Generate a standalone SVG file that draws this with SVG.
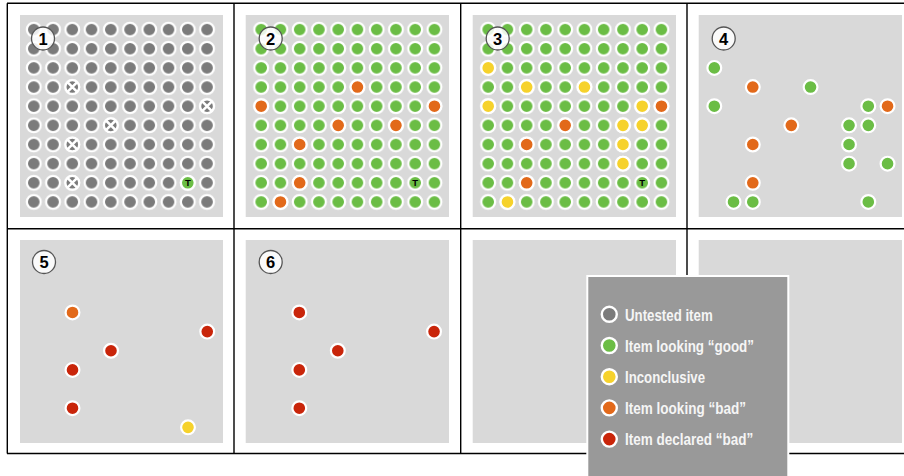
<svg xmlns="http://www.w3.org/2000/svg" xmlns:xlink="http://www.w3.org/1999/xlink" width="904" height="476" viewBox="0 0 904 476">
<style>
.bg{fill:#d9d9d9}
.dot{stroke:#fff;stroke-width:2.2}
.k{fill:#7b7b7b}
.g{fill:#6bbd45}
.o{fill:#e2691a}
.y{fill:#f6d22c}
.r{fill:#c9250a}
.frame{stroke:#000;stroke-width:1.4;fill:none}
.badge circle{fill:#fff;fill-opacity:0.85;stroke:#555;stroke-width:1.3}
.badge text{font-family:"Liberation Sans",Arial,sans-serif;font-weight:bold;font-size:16.5px;fill:#000;text-anchor:middle}
.t{font-family:"Liberation Sans",Arial,sans-serif;font-weight:bold;font-size:9.5px;fill:#000;text-anchor:middle}
.leg text{font-family:"Liberation Sans",Arial,sans-serif;font-weight:bold;font-size:16.5px;fill:#f5f5f5}
.leg circle{stroke:#fff;stroke-width:2.4}
</style>
<defs>
<pattern id="pk" patternUnits="userSpaceOnUse" x="24.175" y="20.025" width="19.25" height="19.15">
<circle class="dot k" cx="9.625" cy="9.575" r="6.9"/>
</pattern>
<pattern id="pg2" patternUnits="userSpaceOnUse" x="251.575" y="20.025" width="19.25" height="19.15">
<circle class="dot g" cx="9.625" cy="9.575" r="6.9"/>
</pattern>
<pattern id="pg3" patternUnits="userSpaceOnUse" x="478.575" y="20.025" width="19.25" height="19.15">
<circle class="dot g" cx="9.625" cy="9.575" r="6.9"/>
</pattern>
<g id="xmark">
<circle class="dot k" cx="0" cy="0" r="6.9"/>
<path d="M-4.6-4.6L4.6 4.6M4.6-4.6L-4.6 4.6" stroke="#fff" stroke-width="2.6"/>
</g>
</defs>
<rect width="904" height="476" fill="#fff"/>

<g id="panel1">
<rect class="bg" x="20" y="15" width="203" height="202"/>
<rect x="24.175" y="20.025" width="192.5" height="191.5" fill="url(#pk)"/>
<use xlink:href="#xmark" x="72.3" y="87.05"/>
<use xlink:href="#xmark" x="207.05" y="106.2"/>
<use xlink:href="#xmark" x="110.8" y="125.35"/>
<use xlink:href="#xmark" x="72.3" y="144.5"/>
<use xlink:href="#xmark" x="72.3" y="182.8"/>
<circle class="dot g" cx="187.8" cy="182.8" r="6.9"/>
<text class="t" x="187.8" y="186.3">T</text>
<g class="badge"><circle cx="43" cy="38.5" r="11.5"/><text x="43" y="44.5">1</text></g>
</g>

<g id="panel2">
<rect class="bg" x="245.7" y="15" width="203.3" height="202"/>
<rect x="251.575" y="20.025" width="192.5" height="191.5" fill="url(#pg2)"/>
<circle class="dot o" cx="357.45" cy="87.05" r="6.9"/>
<circle class="dot o" cx="261.2" cy="106.2" r="6.9"/>
<circle class="dot o" cx="434.45" cy="106.2" r="6.9"/>
<circle class="dot o" cx="338.2" cy="125.35" r="6.9"/>
<circle class="dot o" cx="395.95" cy="125.35" r="6.9"/>
<circle class="dot o" cx="299.7" cy="144.5" r="6.9"/>
<circle class="dot o" cx="299.7" cy="182.8" r="6.9"/>
<circle class="dot o" cx="280.45" cy="201.95" r="6.9"/>
<text class="t" x="415.2" y="186.3">T</text>
<g class="badge"><circle cx="270.7" cy="38.5" r="11.5"/><text x="270.7" y="44.5">2</text></g>
</g>

<g id="panel3">
<rect class="bg" x="472.7" y="15" width="203.3" height="202"/>
<rect x="478.575" y="20.025" width="192.5" height="191.5" fill="url(#pg3)"/>
<circle class="dot y" cx="488.2" cy="67.9" r="6.9"/>
<circle class="dot y" cx="526.7" cy="87.05" r="6.9"/>
<circle class="dot y" cx="584.45" cy="87.05" r="6.9"/>
<circle class="dot y" cx="488.2" cy="106.2" r="6.9"/>
<circle class="dot y" cx="642.2" cy="106.2" r="6.9"/>
<circle class="dot o" cx="661.45" cy="106.2" r="6.9"/>
<circle class="dot o" cx="565.2" cy="125.35" r="6.9"/>
<circle class="dot y" cx="622.95" cy="125.35" r="6.9"/>
<circle class="dot y" cx="642.2" cy="125.35" r="6.9"/>
<circle class="dot o" cx="526.7" cy="144.5" r="6.9"/>
<circle class="dot y" cx="622.95" cy="144.5" r="6.9"/>
<circle class="dot y" cx="622.95" cy="163.65" r="6.9"/>
<circle class="dot o" cx="526.7" cy="182.8" r="6.9"/>
<circle class="dot y" cx="507.45" cy="201.95" r="6.9"/>
<text class="t" x="642.2" y="186.3">T</text>
<g class="badge"><circle cx="497.7" cy="38.5" r="11.5"/><text x="497.7" y="44.5">3</text></g>
</g>

<g id="panel4">
<rect class="bg" x="698.7" y="15" width="203.3" height="202"/>
<circle class="dot g" cx="714.3" cy="67.9" r="6.9"/>
<circle class="dot o" cx="752.8" cy="87.05" r="6.9"/>
<circle class="dot g" cx="810.55" cy="87.05" r="6.9"/>
<circle class="dot g" cx="714.3" cy="106.2" r="6.9"/>
<circle class="dot g" cx="868.3" cy="106.2" r="6.9"/>
<circle class="dot o" cx="887.55" cy="106.2" r="6.9"/>
<circle class="dot o" cx="791.3" cy="125.35" r="6.9"/>
<circle class="dot g" cx="849.05" cy="125.35" r="6.9"/>
<circle class="dot g" cx="868.3" cy="125.35" r="6.9"/>
<circle class="dot o" cx="752.8" cy="144.5" r="6.9"/>
<circle class="dot g" cx="849.05" cy="144.5" r="6.9"/>
<circle class="dot g" cx="849.05" cy="163.65" r="6.9"/>
<circle class="dot g" cx="887.55" cy="163.65" r="6.9"/>
<circle class="dot o" cx="752.8" cy="182.8" r="6.9"/>
<circle class="dot g" cx="733.55" cy="201.95" r="6.9"/>
<circle class="dot g" cx="752.8" cy="201.95" r="6.9"/>
<circle class="dot g" cx="868.3" cy="201.95" r="6.9"/>
<g class="badge"><circle cx="723.7" cy="38.5" r="11.5"/><text x="723.7" y="44.5">4</text></g>
</g>

<g id="panel5">
<rect class="bg" x="20" y="240" width="203" height="203"/>
<circle class="dot o" cx="72.5" cy="312.45" r="6.9"/>
<circle class="dot r" cx="207.25" cy="331.6" r="6.9"/>
<circle class="dot r" cx="111" cy="350.75" r="6.9"/>
<circle class="dot r" cx="72.5" cy="369.9" r="6.9"/>
<circle class="dot r" cx="72.5" cy="408.2" r="6.9"/>
<circle class="dot y" cx="188" cy="427.35" r="6.9"/>
<g class="badge"><circle cx="44" cy="262" r="11.5"/><text x="44" y="268">5</text></g>
</g>

<g id="panel6">
<rect class="bg" x="245.7" y="240" width="203.3" height="203"/>
<circle class="dot r" cx="299.3" cy="312.45" r="6.9"/>
<circle class="dot r" cx="434.05" cy="331.6" r="6.9"/>
<circle class="dot r" cx="337.8" cy="350.75" r="6.9"/>
<circle class="dot r" cx="299.3" cy="369.9" r="6.9"/>
<circle class="dot r" cx="299.3" cy="408.2" r="6.9"/>
<g class="badge"><circle cx="270.7" cy="262" r="11.5"/><text x="270.7" y="268">6</text></g>
</g>

<g id="panel7">
<rect class="bg" x="472.7" y="240" width="203.3" height="203"/>
</g>
<g id="panel8">
<rect class="bg" x="698.7" y="240" width="203.3" height="203"/>
</g>

<g id="frame" class="frame">
<path d="M7 3.3H904M7 228.8H904M7 453.5H904"/>
<path d="M7.3 3.3V453.5M234 3.3V453.5M460.7 3.3V453.5M687 3.3V453.5"/>
</g>

<g id="legend" class="leg">
<rect x="587.3" y="276" width="201" height="212" fill="#999" stroke="#fff" stroke-width="2"/>
<circle class="k" cx="609.3" cy="314.3" r="7.5"/>
<text x="625" y="320.5" textLength="87.7" lengthAdjust="spacingAndGlyphs">Untested item</text>
<circle class="g" cx="609.3" cy="345.5" r="7.5"/>
<text x="625" y="351.7" textLength="129" lengthAdjust="spacingAndGlyphs">Item looking “good”</text>
<circle class="y" cx="609.3" cy="376.7" r="7.5"/>
<text x="625" y="382.9" textLength="80" lengthAdjust="spacingAndGlyphs">Inconclusive</text>
<circle class="o" cx="609.3" cy="407.9" r="7.5"/>
<text x="625" y="414.1" textLength="121" lengthAdjust="spacingAndGlyphs">Item looking “bad”</text>
<circle class="r" cx="609.3" cy="439.1" r="7.5"/>
<text x="625" y="445.3" textLength="128.3" lengthAdjust="spacingAndGlyphs">Item declared “bad”</text>
</g>
</svg>
